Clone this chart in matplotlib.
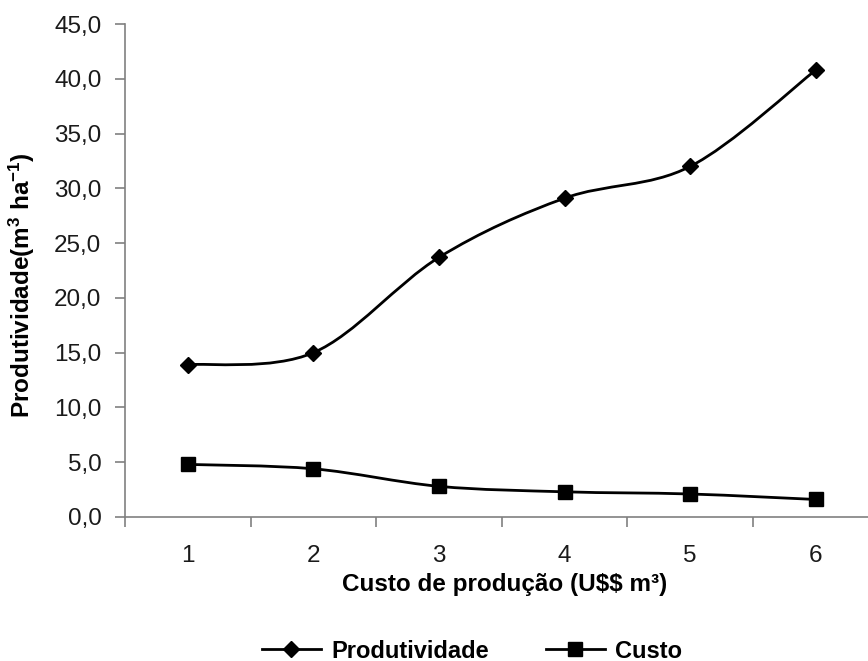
import matplotlib
matplotlib.use("Agg")
import matplotlib.pyplot as plt
from matplotlib.path import Path
from matplotlib.patches import PathPatch
from matplotlib.lines import Line2D
import numpy as np

plt.rcParams['font.family'] = ['Liberation Sans', 'DejaVu Sans']
plt.rcParams['mathtext.default'] = 'regular'

categories = [1, 2, 3, 4, 5, 6]
produtividade = [13.9, 15.0, 23.7, 29.1, 32.0, 40.8]
custo = [4.8, 4.4, 2.8, 2.3, 2.1, 1.6]
yticks = [0, 5, 10, 15, 20, 25, 30, 35, 40, 45]
ytick_labels = ["0,0", "5,0", "10,0", "15,0", "20,0", "25,0", "30,0", "35,0", "40,0", "45,0"]

W, H = 868, 661
fig = plt.figure(figsize=(W / 100, H / 100), dpi=100)
ax = fig.add_axes([125 / W, 1 - 517 / H, (868 - 125) / W, (517 - 24) / H])


def smooth_path(xs, ys):
    xs = np.asarray(xs, float)
    ys = np.asarray(ys, float)
    n = len(xs)
    verts = [(xs[0], ys[0])]
    codes = [Path.MOVETO]
    for i in range(n - 1):
        x0, y0 = (xs[i - 1], ys[i - 1]) if i > 0 else (xs[i], ys[i])
        x1, y1 = xs[i], ys[i]
        x2, y2 = xs[i + 1], ys[i + 1]
        x3, y3 = (xs[i + 2], ys[i + 2]) if i + 2 < n else (xs[i + 1], ys[i + 1])
        c1 = (x1 + (x2 - x0) / 6, y1 + (y2 - y0) / 6)
        c2 = (x2 - (x3 - x1) / 6, y2 - (y3 - y1) / 6)
        verts += [c1, c2, (x2, y2)]
        codes += [Path.CURVE4] * 3
    return Path(verts, codes)


for data, marker, ms in [(produtividade, 'D', 8), (custo, 's', 10)]:
    patch = PathPatch(smooth_path(categories, data), facecolor='none',
                      edgecolor='black', lw=2.0, zorder=2)
    ax.add_patch(patch)
    ax.plot(categories, data, linestyle='none', marker=marker, ms=ms,
            color='black', zorder=3, clip_on=False)

ax.set_yticks(yticks)
ax.set_yticklabels(ytick_labels)
ax.set_xticks([0.5, 1.5, 2.5, 3.5, 4.5, 5.5, 6.5])
ax.set_xticklabels([])
ax.set_xticks(categories, minor=True)
ax.set_xticklabels([str(c) for c in categories], minor=True)

ax.set_xlim(0.5, 0.5 + (868 - 125) / 125.6)
ax.set_ylim(0, 45)

gray = '#808080'
for s in ['top', 'right']:
    ax.spines[s].set_visible(False)
for s in ['left', 'bottom']:
    ax.spines[s].set_color(gray)
    ax.spines[s].set_linewidth(1.2)

ax.tick_params(axis='y', which='major', length=7, width=1.2, color=gray,
               labelsize=17.5, pad=10, labelcolor='#1a1a1a')
ax.tick_params(axis='x', which='major', length=7, width=1.2, color=gray)
ax.tick_params(axis='x', which='minor', length=0, labelsize=17.5, pad=20,
               labelcolor='#1a1a1a')

fig.text(505 / W, 1 - 584 / H, r"Custo de produção (U\$\$ m³)", ha='center',
         va='center', fontsize=17.5, fontweight='bold')
fig.text(22 / W, 1 - 285 / H, "Produtividade(m$^3$ ha$^{-1}$)", ha='center',
         va='center', rotation=90, fontsize=17.5, fontweight='bold')

handles = [
    Line2D([], [], color='black', lw=2, marker='D', ms=8),
    Line2D([], [], color='black', lw=2, marker='s', ms=10),
]
fig.legend(handles, ['Produtividade', 'Custo'], loc='center',
           bbox_to_anchor=(472 / W, 1 - 651 / H), ncol=2, frameon=False,
           prop={'weight': 'bold', 'size': 17}, handlelength=2.5,
           columnspacing=2.4, handletextpad=0.45)

fig.savefig("out.png", dpi=100)
